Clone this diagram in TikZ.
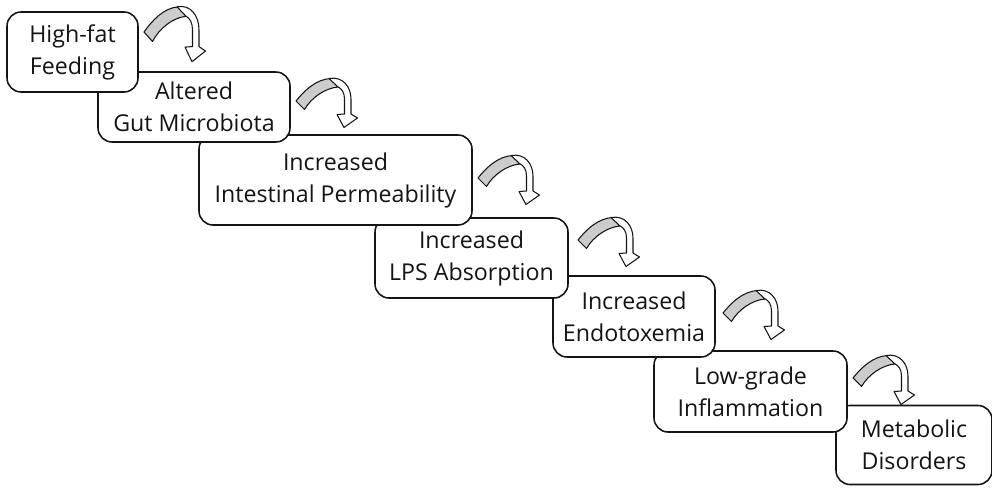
\documentclass[tikz,border=0pt]{standalone}
\usepackage{fontspec}
\setmainfont{Open Sans}
\usepackage{tikz}
\usetikzlibrary{positioning, calc}
\definecolor{mydark}{RGB}{20,20,20}
\definecolor{ribbongray}{RGB}{204,204,204}
\tikzset{
  stepbox/.style={rectangle, draw=mydark, fill=white, align=center,
    rounded corners=10pt, line width=1.1pt, inner sep=0pt,
    font=\fontsize{16.5}{22.8}\selectfont, text=mydark},
  ribbon/.style={draw=mydark, line width=0.75pt, line join=round},
  bendarrow/.pic={
    \begin{scope}[x=0.025cm, y=-0.025cm]
      % back side of the ribbon
      \filldraw[ribbon, fill=ribbongray] (0,0) .. controls (8,-10) and (20,-22) .. (35,-22.5)
        -- (42,-14) .. controls (29,-13) and (15,-3) .. (8.5,8.5) -- cycle;
      % front side with the head
      \filldraw[ribbon, fill=white] (33,-22.5) .. controls (47,-25) and (55,-14) .. (55,-2)
        -- (55,13) -- (61.5,17) -- (48,26.5) -- (41,13.5) -- (48.5,13) -- (48.5,-2)
        .. controls (48.5,-8) and (46,-12.5) .. (41.5,-14.5) -- cycle;
    \end{scope}
  }
}

\begin{document}
\begin{tikzpicture}
  \useasboundingbox (0,0) rectangle (24.8,-12.175);

  % Steps, last one first so each earlier box lies on top
  \node[stepbox, minimum width=3.9cm, minimum height=1.975cm] (metab) at (22.85,-11.125) {Metabolic\\Disorders};
  \node[stepbox, minimum width=4.825cm, minimum height=2.025cm] (inflam) at (18.7625,-9.7875) {Low-grade\\Inflammation};
  \node[stepbox, minimum width=4.05cm, minimum height=2.025cm] (endo) at (15.85,-7.9125) {Increased\\Endotoxemia};
  \node[stepbox, minimum width=4.825cm, minimum height=2.0cm] (lps) at (11.7875,-6.45) {Increased\\LPS Absorption};
  \node[stepbox, minimum width=6.825cm, minimum height=2.25cm] (perm) at (8.3875,-4.5) {Increased\\Intestinal Permeability};
  \node[stepbox, minimum width=4.8cm, minimum height=1.75cm] (gut) at (4.85,-2.675) {Altered\\Gut Microbiota};
  \node[stepbox, minimum width=3.275cm, minimum height=2.0cm] (feed) at (1.8125,-1.3) {High-fat\\Feeding};

  % Curved arrows between the steps
  \pic[yscale=1.12] at (3.6,-0.8) {bendarrow};
  \pic at (7.4,-2.525) {bendarrow};
  \pic at (11.95,-4.45) {bendarrow};
  \pic at (14.45,-6.0) {bendarrow};
  \pic at (18.075,-7.825) {bendarrow};
  \pic at (21.325,-9.45) {bendarrow};
\end{tikzpicture}
\end{document}
